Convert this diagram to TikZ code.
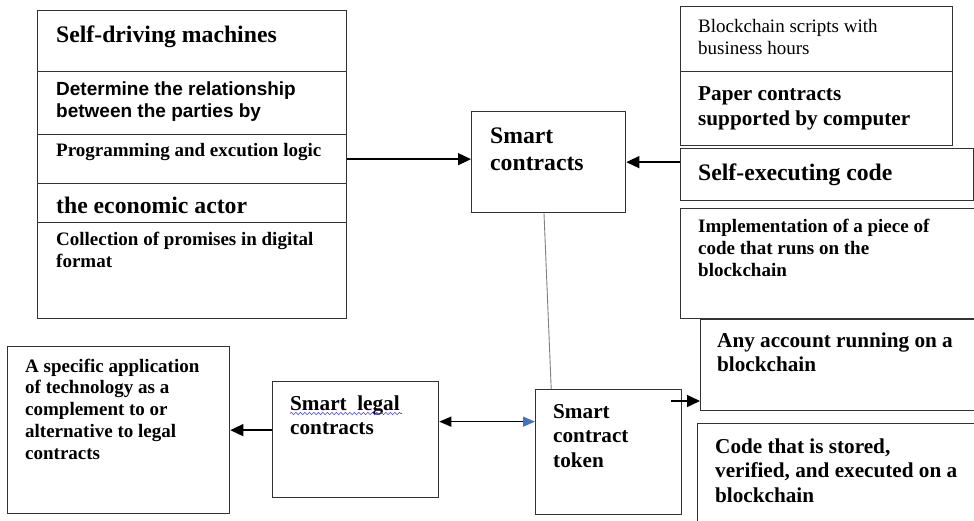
\documentclass[tikz,border=0pt]{standalone}
\usepackage{fontspec}
\setmainfont{Liberation Serif}
\newfontfamily\arialfont{Liberation Sans}
\usetikzlibrary{arrows.meta,calc,decorations.pathmorphing}
\definecolor{boxgray}{HTML}{333333}
\definecolor{wordblue}{HTML}{4472C4}
\definecolor{spellblue}{HTML}{3C3CF0}
\newcommand\szsmall{\fontsize{19}{21.8}\selectfont}
\newcommand\szmid{\fontsize{21.2}{24.5}\selectfont}
\newcommand\szbig{\fontsize{23.7}{27.6}\selectfont}
\tikzset{
  box/.style={draw=boxgray, line width=1.3pt, anchor=north west, inner sep=0pt},
  lbl/.style={anchor=base west, align=left, inner sep=0pt, font=\bfseries\szsmall},
  arr/.style={-{Triangle[length=13pt,width=12pt]}, line width=1.4pt},
}

\begin{document}
\begin{tikzpicture}[x=1pt,y=-1pt]
        \useasboundingbox (0,0) rectangle (974,521);
        % Left stack of boxes (labels sit on the baseline of their last line)
        \node[box, minimum width=309, minimum height=61] (sdm) at (37,10) {};
        \node[box, minimum width=309, minimum height=63] (det) at (37,71) {};
        \node[box, minimum width=309, minimum height=49] (prog) at (37,134) {};
        \node[box, minimum width=309, minimum height=39] (eco) at (37,183) {};
        \node[box, minimum width=309, minimum height=96] (coll) at (37,222) {};
        \node[lbl, font=\bfseries\szbig] (sdmt) at (56,42.7) {Self-driving machines};
        \node[lbl, font=\arialfont\bfseries\szsmall] (dett) at (56,117.5) {Determine the relationship\\between the parties by};
        \node[lbl] (progt) at (56,156.7) {Programming and excution logic};
        % this one is cut off at the bottom
        \begin{scope}
            \clip (eco.north west) rectangle ([yshift=10pt]eco.south east);
            \node[lbl, font=\bfseries\szbig] (ecot) at (56,214) {the economic actor};
        \end{scope}
        \node[lbl] (collt) at (56,267.5) {Collection of promises in digital\\format};
        % Centre
        \node[box, minimum width=154, minimum height=101] (sc) at (471,111) {};
        \node[lbl, font=\bfseries\szbig] (sct) at (490,170.9) {Smart\\contracts};
        \node[box, minimum width=146, minimum height=125] (tok) at (535,389) {};
        \node[lbl, font=\bfseries\szmid] (tokt) at (553,467) {Smart\\contract\\token};
        % Right stack of boxes
        \node[box, minimum width=272, minimum height=65] (bls) at (680,6) {};
        \node[box, minimum width=272, minimum height=74] (pap) at (680,71) {};
        \node[box, minimum width=293, minimum height=52] (sec) at (680,148) {};
        \node[box, minimum width=320, minimum height=110] (imp) at (680,208) {};
        \node[box, minimum width=300, minimum height=91] (acc) at (700,319) {};
        \node[box, minimum width=300, minimum height=110] (cod) at (697,423) {};
        \node[lbl, font=\szsmall] (blst) at (698,54.5) {Blockchain scripts with\\business hours};
        \node[lbl, font=\bfseries\szmid] (papt) at (698,125.5) {Paper contracts\\supported by computer};
        \node[lbl, font=\bfseries\szbig] (sect) at (698,181) {Self-executing code};
        \node[lbl] (impt) at (698,276.3) {Implementation of a piece of\\code that runs on the\\blockchain};
        \node[lbl, font=\bfseries\szmid] (acct) at (717,371.5) {Any account running on a\\blockchain};
        \node[lbl, font=\bfseries\szmid] (codt) at (715,502) {Code that is stored,\\verified, and executed on a\\blockchain};
        % Bottom left
        \node[box, minimum width=222, minimum height=167] (spec) at (7,346) {};
        \node[lbl] (spect) at (25,459.2) {A specific application\\of technology as a\\complement to or\\alternative to legal\\contracts};
        \node[box, minimum width=166, minimum height=116] (slc) at (272,381) {};
        \node[lbl, font=\bfseries\szmid] (slct) at (290,434.5) {Smart\ \ legal\\contracts};
        \draw[spellblue, line width=0.6pt, decorate, decoration={snake, amplitude=1.1pt, segment length=4.5pt}]
            ([yshift=21pt]slct.base west) -- ++(112,0);
        % Connectors
        \draw[arr] (prog.east) -- (prog.east -| sc.west);
        \draw[arr] (sc.east -| sec.west) -- (sc.east);
        \draw[gray, line width=0.9pt] ($(sc.south west)!0.47!(sc.south east)$) -- ($(tok.north west)!0.11!(tok.north east)$);
        \draw[arr] (slc.west |- spec.east) -- (spec.east);
        \draw[{Triangle[length=12pt,width=10pt]}-{Triangle[length=12pt,width=10pt,color=wordblue]}, line width=1.3pt]
            ([yshift=18pt]slc.east) -- ([yshift=18pt]slc.east -| tok.west);
        \coordinate (tokout) at ([shift={(-11pt,-12pt)}]tok.north east);
        \draw[arr] (tokout) -- (tokout -| acc.west);
\end{tikzpicture}
\end{document}
